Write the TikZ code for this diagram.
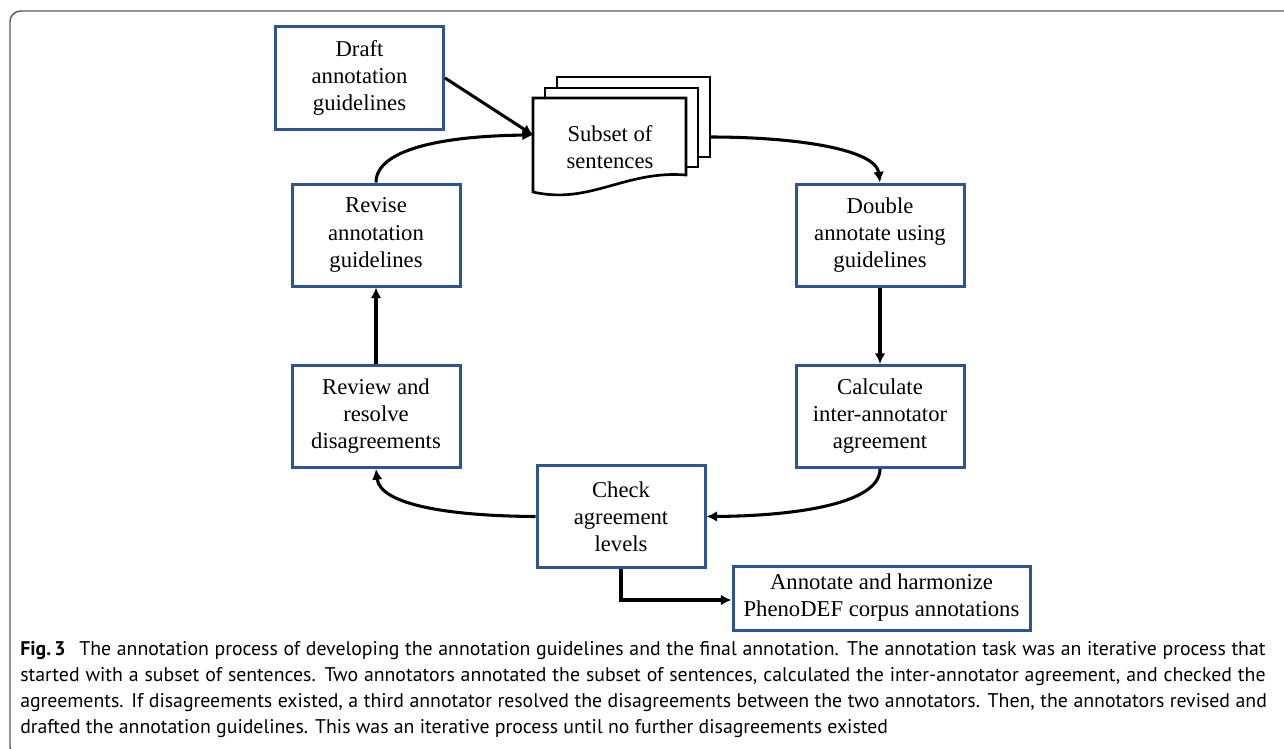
\documentclass[tikz,border=0pt]{standalone}
\usepackage{fontspec}
\setmainfont{Liberation Serif}
\newfontfamily\capfont{PT Sans}
\usetikzlibrary{arrows.meta}
\usetikzlibrary{positioning}
\definecolor{mblue}{rgb}{0.18, 0.33, 0.59}
\definecolor{mframe}{rgb}{0.35, 0.35, 0.35}
\tikzset{procbox/.style = {draw = mblue, line width = 2.25pt, fill = white, align = center,
    minimum width = 126pt, minimum height = 76.5pt, inner sep = 0,
    font = \fontsize{17}{20.3}\selectfont, execute at begin node = \rule{0pt}{16.5pt}}}
\tikzset{flow/.style = {line width = 2.3pt, -{Latex[length = 8pt, width = 8pt]}}}
\tikzset{page/.style = {draw, line width = 2pt, fill = white}}
\tikzset{capline/.style = {anchor = base west, inner sep = 0, font = \capfont\fontsize{14.85}{20}\selectfont}}

\begin{document}
\begin{tikzpicture}[x = 0.75pt, y = -0.75pt]
      \useasboundingbox (0, 0) rectangle (1284, 749);
      \draw [mframe, line width = 1.1pt, rounded corners = 8pt] (10, 11) rectangle (1300, 757);

      % stack of sentence pages
      \draw [page] (557, 77) rectangle (710, 157);
      \draw [page] (545, 88) rectangle (698, 167);
      \draw [page] (533, 192) -- (533, 98) -- (686, 98) -- (686, 175)
        .. controls (625, 170) and (590, 205) .. cycle;
      \node [font = \fontsize{17}{20.3}\selectfont, align = center] (subset) at (610, 147) {Subset of\\sentences};
      \coordinate (docin) at (533, 135);
      \coordinate (docout) at (710, 137);

      \node [procbox] (draft) at (359.5, 78) {Draft\\annotation\\guidelines};
      \node [procbox] (double) at (880, 235) {Double\\annotate using\\guidelines};
      \node [procbox] (calc) at (880, 416.5) {Calculate\\inter-annotator\\agreement};
      \node [procbox] (check) at (621, 516.5) {Check\\agreement\\levels};
      \node [procbox] (review) at (376, 416.5) {Review and\\resolve\\disagreements};
      \node [procbox] (revise) at (376, 235) {Revise\\annotation\\guidelines};
      \node [procbox, minimum width = 222.75pt, minimum height = 48pt] (final) at (881.5, 598)
        {Annotate and harmonize\\PhenoDEF corpus annotations};

      \draw [flow] (draft.east) -- (docin);
      \draw [flow] (revise.north) .. controls (376, 150) and (440, 136) .. (docin);
      \draw [flow] (docout) .. controls (800, 137) and (876, 150) .. (double.north);
      \draw [flow] (double.south) -- (calc.north);
      \draw [flow] (calc.south) .. controls (880, 505) and (790, 516) .. (check.east);
      \draw [flow] (check.west) .. controls (450, 516) and (380, 505) .. (review.south);
      \draw [flow] (review.north) -- (revise.south);
      \draw [flow] (check.south) |- ([yshift = -1.5pt]final.west);

      % caption
      \node [capline] (cap1) at (20, 655) {\makebox[934pt][s]{\textbf{Fig.\,3}\hspace{6pt} The annotation process of developing the annotation guidelines and the final annotation. The annotation task was an iterative process that}};
      \node [capline] (cap2) at (20, 681) {\makebox[934pt][s]{started with a subset of sentences. Two annotators annotated the subset of sentences, calculated the inter-annotator agreement, and checked the}};
      \node [capline] (cap3) at (20, 707) {\makebox[935pt][s]{agreements. If disagreements existed, a third annotator resolved the disagreements between the two annotators. Then, the annotators revised and}};
      \node [capline] (cap4) at (20, 733) {drafted the annotation guidelines. This was an iterative process until no further disagreements existed};
    \end{tikzpicture}
\end{document}
